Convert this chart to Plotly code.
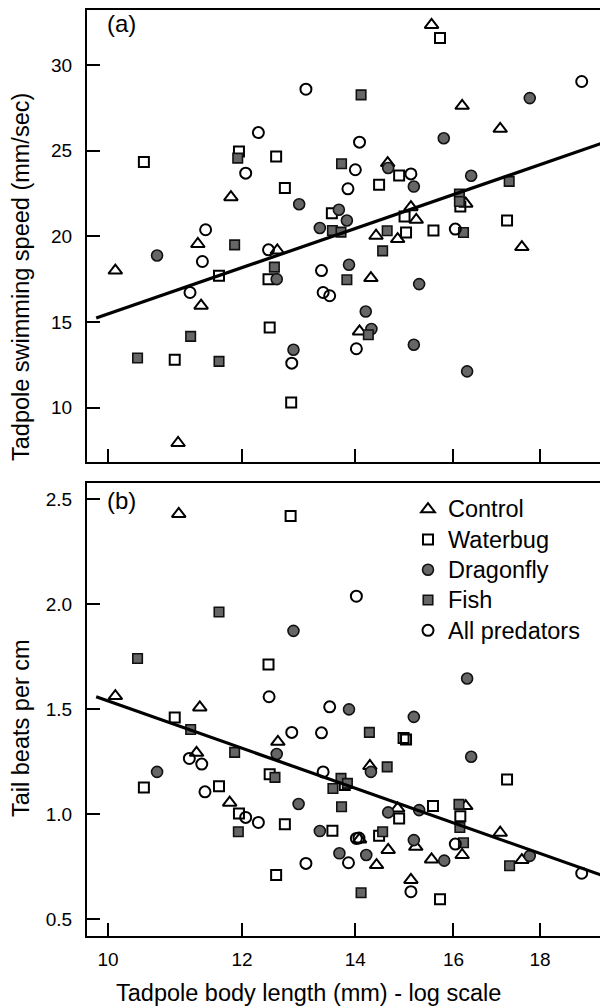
import plotly.graph_objects as go
import math

# ---------------- data ----------------
# Panel (a): swimming speed (mm/sec)
ctrl_x_a = [10.10, 11.00, 11.30, 11.35, 11.82, 12.59, 14.08, 14.30, 14.40, 14.63, 14.83, 15.10, 15.21, 15.53, 16.19, 16.27, 17.05, 17.56]
ctrl_y_a = [18.0, 7.94, 19.55, 15.95, 22.28, 19.17, 14.45, 17.56, 20.03, 24.27, 19.84, 21.70, 20.96, 32.33, 27.61, 21.90, 26.27, 19.37]

wb_x_a = [10.50, 10.95, 11.63, 11.95, 12.44, 12.46, 12.57, 12.72, 12.83, 13.56, 14.46, 14.86, 14.97, 15.00, 15.57, 15.71, 16.15, 17.21]
wb_y_a = [24.33, 12.80, 17.70, 24.94, 17.50, 14.68, 24.65, 22.81, 10.31, 21.35, 23.00, 23.55, 21.16, 20.22, 20.34, 31.56, 21.74, 20.92]

df_x_a = [10.69, 12.58, 12.87, 12.97, 13.34, 13.69, 13.84, 13.88, 14.20, 14.31, 14.64, 15.16, 15.16, 15.27, 15.79, 16.30, 16.39, 17.75]
df_y_a = [18.88, 17.50, 13.38, 21.87, 20.48, 21.55, 20.92, 18.34, 15.61, 14.59, 23.98, 22.90, 13.67, 17.21, 25.72, 12.12, 23.53, 28.06]

fish_x_a = [10.41, 11.19, 11.63, 11.88, 11.93, 12.54, 13.57, 13.73, 13.74, 13.84, 14.11, 14.25, 14.53, 14.62, 16.13, 16.13, 16.22, 17.26]
fish_y_a = [12.90, 14.16, 12.70, 19.50, 24.56, 18.20, 20.34, 20.24, 24.23, 17.46, 28.25, 14.26, 19.15, 20.32, 22.46, 22.03, 20.22, 23.20]

all_x_a = [11.18, 11.37, 11.42, 12.06, 12.27, 12.44, 12.84, 13.09, 13.37, 13.40, 13.52, 13.86, 14.00, 14.02, 14.08, 15.10, 16.04, 19.05]
all_y_a = [16.72, 18.53, 20.38, 23.68, 26.05, 19.21, 12.60, 28.58, 18.00, 16.72, 16.53, 22.77, 23.88, 13.44, 25.49, 23.64, 20.42, 29.03]

fit_x_a = [9.84, 19.60]
fit_y_a = [15.23, 25.44]

# Panel (b): tail beats per cm
ctrl_x_b = [10.10, 11.01, 11.33, 11.28, 11.80, 12.60, 14.08, 14.28, 14.41, 14.64, 14.83, 15.10, 15.20, 15.53, 16.19, 16.27, 17.05, 17.56]
ctrl_y_b = [1.562, 2.43, 1.508, 1.292, 1.054, 1.344, 0.879, 1.229, 0.757, 0.829, 1.027, 0.686, 0.844, 0.784, 0.805, 1.038, 0.911, 0.781]

wb_x_b = [10.50, 10.95, 11.63, 11.95, 12.44, 12.46, 12.57, 12.72, 12.82, 13.57, 13.80, 14.46, 14.86, 14.95, 15.00, 15.56, 15.71, 16.15, 17.21]
wb_y_b = [1.127, 1.46, 1.133, 1.003, 1.713, 1.19, 0.710, 0.952, 2.42, 0.92, 1.138, 0.897, 0.979, 1.362, 1.355, 1.038, 0.594, 0.99, 1.165]

df_x_b = [10.69, 12.58, 12.87, 12.96, 13.34, 13.70, 13.88, 14.21, 14.30, 14.64, 15.16, 15.16, 15.27, 15.80, 16.30, 16.39, 17.75]
df_y_b = [1.201, 1.286, 1.873, 1.048, 0.919, 0.813, 1.499, 0.805, 1.201, 1.008, 1.463, 0.876, 1.019, 0.778, 1.646, 1.273, 0.801]

fish_x_b = [10.41, 11.19, 11.63, 11.88, 11.94, 12.55, 13.58, 13.73, 13.74, 13.85, 14.11, 14.27, 14.53, 14.62, 16.12, 16.14, 16.22, 17.27]
fish_y_b = [1.741, 1.403, 1.963, 1.294, 0.916, 1.175, 1.122, 1.17, 1.035, 1.146, 0.625, 1.389, 0.916, 1.225, 1.046, 0.936, 0.863, 0.754]

all_x_b = [11.17, 11.36, 11.41, 12.06, 12.27, 12.45, 12.84, 13.09, 13.37, 13.40, 13.52, 13.87, 14.02, 14.07, 14.02, 15.10, 16.04, 19.05]
all_y_b = [1.265, 1.238, 1.106, 0.984, 0.960, 1.559, 1.389, 0.765, 1.387, 1.201, 1.511, 0.768, 0.884, 0.886, 2.038, 0.630, 0.857, 0.718]

fit_x_b = [9.84, 19.60]
fit_y_b = [1.559, 0.707]

group_names = ["Control", "Waterbug", "Dragonfly", "Fish", "All predators"]
x_ticks = [10, 12, 14, 16, 18]
ya_ticks = [10, 15, 20, 25, 30]
yb_ticks = [0.5, 1.0, 1.5, 2.0, 2.5]
yb_ticklabels = ["0.5", "1.0", "1.5", "2.0", "2.5"]

# ---------------- styling ----------------
FONT = "Arial, Liberation Sans, sans-serif"
GRAY = "#666666"
styles = {
    "Control": dict(symbol="triangle-up-open", size=12, color="black", line=dict(width=2, color="black")),
    "Waterbug": dict(symbol="square-open", size=10, color="black", line=dict(width=2, color="black")),
    "Dragonfly": dict(symbol="circle", size=11, color=GRAY, line=dict(width=1.6, color="#111111")),
    "Fish": dict(symbol="square", size=9.5, color=GRAY, line=dict(width=1.6, color="#111111")),
    "All predators": dict(symbol="circle-open", size=11, color="black", line=dict(width=2, color="black")),
}

panel_a = {
    "Control": (ctrl_x_a, ctrl_y_a), "Waterbug": (wb_x_a, wb_y_a), "Dragonfly": (df_x_a, df_y_a),
    "Fish": (fish_x_a, fish_y_a), "All predators": (all_x_a, all_y_a),
}
panel_b = {
    "Control": (ctrl_x_b, ctrl_y_b), "Waterbug": (wb_x_b, wb_y_b), "Dragonfly": (df_x_b, df_y_b),
    "Fish": (fish_x_b, fish_y_b), "All predators": (all_x_b, all_y_b),
}

fig = go.Figure()

for name in group_names:
    xs, ys = panel_a[name]
    fig.add_trace(go.Scatter(x=xs, y=ys, mode="markers", name=name, marker=styles[name],
                             xaxis="x2", yaxis="y2", showlegend=False))
fig.add_trace(go.Scatter(x=fit_x_a, y=fit_y_a, mode="lines", line=dict(color="black", width=3.2),
                         xaxis="x2", yaxis="y2", showlegend=False))

for name in group_names:
    xs, ys = panel_b[name]
    fig.add_trace(go.Scatter(x=xs, y=ys, mode="markers",
                             name='<span style="font-size:23.5px">' + name + '</span>',
                             marker=styles[name], xaxis="x", yaxis="y", showlegend=True))
fig.add_trace(go.Scatter(x=fit_x_b, y=fit_y_b, mode="lines", line=dict(color="black", width=3.2),
                         xaxis="x", yaxis="y", showlegend=False))

# figure geometry (page margin removed by post_script, so screen px == figure px)
W, H = 600, 1006
L, R, T, B = 87, 0, 10, 70
PW, PH = W - L - R, H - T - B


def px_x(p):  # screen pixel -> paper x
    return (p - L) / PW


def px_y(p):  # screen pixel -> paper y
    return (H - B - p) / PH


xrange_log = [math.log10(9.718), math.log10(19.53)]
axis_common = dict(showline=True, linecolor="black", linewidth=2, ticks="inside", ticklen=13,
                   tickwidth=2, tickcolor="black", showgrid=False, zeroline=False,
                   tickfont=dict(family=FONT, size=19, color="black"))

fig.update_layout(
    width=W, height=H,
    margin=dict(l=L, r=R, t=T, b=B, autoexpand=False),
    paper_bgcolor="white", plot_bgcolor="white",
    font=dict(family=FONT, color="black"),
    xaxis=dict(type="log", range=xrange_log, tickvals=x_ticks, ticktext=[str(v) for v in x_ticks],
               mirror=True, anchor="y", ticklabelstandoff=5, automargin=False, **axis_common),
    yaxis=dict(domain=[0, px_y(483.3)], range=[0.419, 2.576], tickvals=yb_ticks, ticktext=yb_ticklabels,
               anchor="x", ticklabelstandoff=9, automargin=False, **axis_common),
    xaxis2=dict(type="log", range=xrange_log, tickvals=x_ticks, showticklabels=False,
                mirror=True, anchor="y2", matches="x", automargin=False, **axis_common),
    yaxis2=dict(domain=[px_y(461.7), 1.0], range=[6.85, 33.2], tickvals=ya_ticks,
                ticktext=[str(v) for v in ya_ticks], anchor="x2", ticklabelstandoff=9,
                automargin=False, **axis_common),
    legend=dict(x=px_x(408), xanchor="left", y=px_y(489), yanchor="top",
                font=dict(family=FONT, size=21, color="black"), bgcolor="rgba(0,0,0,0)",
                borderwidth=0, tracegroupgap=0),
    annotations=[
        dict(text="(a)", x=px_x(105), y=px_y(24), xref="paper", yref="paper", xanchor="left",
             yanchor="middle", showarrow=False, font=dict(family=FONT, size=24, color="black")),
        dict(text="(b)", x=px_x(105), y=px_y(501), xref="paper", yref="paper", xanchor="left",
             yanchor="middle", showarrow=False, font=dict(family=FONT, size=24, color="black")),
        dict(text="Tadpole swimming speed (mm/sec)", x=px_x(21), y=px_y(277), xref="paper", yref="paper",
             xanchor="center", yanchor="middle", textangle=-90, showarrow=False,
             font=dict(family=FONT, size=23.5, color="black")),
        dict(text="Tail beats per cm", x=px_x(21), y=px_y(728), xref="paper", yref="paper",
             xanchor="center", yanchor="middle", textangle=-90, showarrow=False,
             font=dict(family=FONT, size=23.5, color="black")),
        dict(text="Tadpole body length (mm) - log scale", x=px_x(308), y=px_y(993), xref="paper",
             yref="paper", xanchor="center", yanchor="middle", showarrow=False,
             font=dict(family=FONT, size=23.5, color="black")),
    ],
)

fig.write_html("out.html",
               config={"displayModeBar": False},
               post_script="document.documentElement.style.overflow='hidden';"
                           "document.body.style.margin='0';document.body.style.overflow='hidden';")
